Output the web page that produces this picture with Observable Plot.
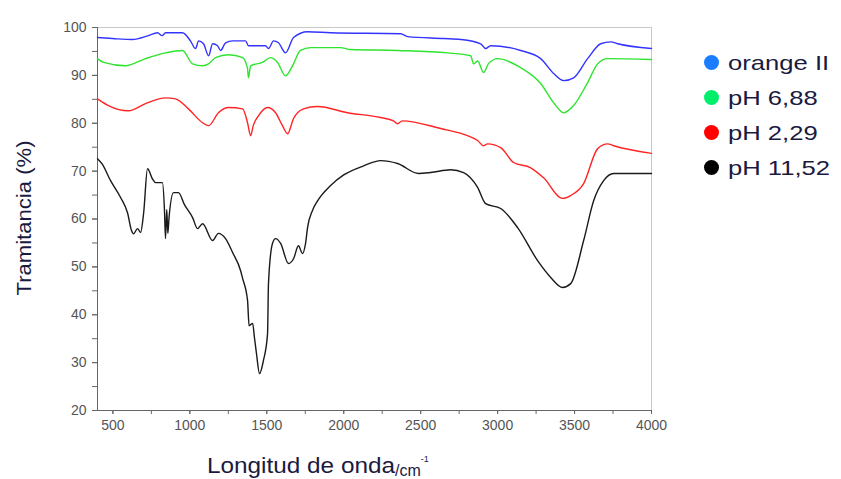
<!DOCTYPE html>
<html>
<head>
<meta charset="utf-8">
<script src="https://cdn.jsdelivr.net/npm/d3@7"></script>
<script src="https://cdn.jsdelivr.net/npm/@observablehq/plot@0.6"></script>
<style>
  html, body { margin: 0; padding: 0; background: #fff; }
  #wrap { position: relative; width: 841px; height: 479px; font-family: "Liberation Sans", Arial, sans-serif; }
  #legend { position: absolute; left: 704px; top: 45px; }
  .li { display: flex; align-items: center; height: 35px; font-size: 21px; color: #1a1a40; }
  .dot { width: 15px; height: 15px; border-radius: 50%; margin-right: 9px; flex: none; }
  .tx { display: inline-block; transform: scaleX(1.22); transform-origin: left center; white-space: nowrap; }
</style>
</head>
<body>
<div id="wrap"><div id="legend"></div></div>
<script>
// Series names and colors
const seriesNames = ["orange II", "pH 6,88", "pH 2,29", "pH 11,52"];
const lineColors = ["#3434ff", "#2ee42e", "#ff2424", "#1a1a1a"];
const legendColors = ["#1a7dff", "#00ee6a", "#ff0000", "#000000"];

// orange II
const waveOrange = [400,497,627,731,790,820,842,952,1004,1037,1057,1089,1122,1148,1180,1200,1232,1278,1362,1381,1492,1511,1544,1576,1622,1674,1765,1915,2370,2415,2649,2760,2890,2922,2955,3150,3280,3364,3429,3494,3585,3670,3735,3780,4000];
const tOrange    = [97.9,97.7,97.5,98.3,98.9,98.3,98.9,98.9,97.2,95.6,97.2,96.6,94.1,96.6,96.2,95.2,96.8,97.2,97.2,96.2,96.2,95.6,97.2,96.8,94.7,97.9,99.1,98.9,98.7,98.1,97.7,97.5,96.6,95.6,96.2,95.2,93.5,90.4,88.9,89.5,93.5,96.6,97,96.6,95.6];

// pH 6,88
const wave688 = [400,440,582,712,842,952,1018,1083,1122,1167,1252,1343,1375,1381,1395,1472,1524,1570,1622,1667,1719,1785,1980,2044,2350,2675,2825,2844,2870,2909,2940,3000,3150,3280,3364,3429,3494,3585,3650,3715,4000];
const t688    = [93.5,92.7,92,93.5,94.7,95.2,92.4,92,92.4,93.7,94.3,93.7,91.4,89.5,92,92.7,93.7,92.7,89.9,92,95.2,95.8,95.8,95.4,95.2,94.7,94.1,92.4,93,90.6,92.4,93.5,91.6,88.3,84.3,82.2,83.7,88.5,92.4,93.5,93.3];

// pH 2,29
const wave229 = [400,471,600,712,842,907,991,1083,1122,1186,1252,1343,1375,1395,1412,1447,1505,1557,1602,1635,1674,1739,1830,2025,2240,2324,2350,2380,2630,2805,2870,2909,2935,3020,3104,3215,3299,3422,3475,3559,3650,3715,3754,4000];
const t229    = [85.1,83.7,82.6,84.1,85.3,85.1,83,80.1,79.5,82.2,83.3,83,80.1,77.4,79.5,81.6,83.3,82.2,79.5,77.8,81,83,83.5,82.2,81.2,80.5,79.9,80.5,78.9,77.4,76.4,75.3,75.7,74.9,71.8,70.7,68.6,64.3,64.9,67.4,74.7,75.7,75.3,73.7];

// pH 11,52
const wave1152 = [400,430,485,550,595,621,634,660,680,700,725,757,777,822,835,842,850,857,865,894,926,965,1018,1050,1083,1148,1186,1232,1278,1330,1343,1375,1385,1408,1420,1433,1453,1478,1505,1511,1537,1557,1590,1641,1674,1706,1732,1752,1765,1797,1830,1915,2000,2129,2240,2350,2487,2565,2695,2779,2870,2922,3020,3130,3260,3345,3422,3475,3559,3624,3689,3754,4000];
const t1152    = [72.6,71.5,68,64.5,61.3,57.6,56.9,58,57.2,61.3,70.5,68.4,67.6,67.6,62,55.9,62,57,60.3,65.5,65.5,63,60.3,58,59,55.5,57,55.9,53,49.2,47.6,43,37.7,38.2,35.2,31.9,27.7,30.4,36,46.5,54.9,55.9,54.9,50.7,51.7,54.4,52.8,54.9,58.2,61.8,63.8,67,69.2,71.1,72.2,71.6,69.5,69.7,70.3,69.7,66.6,63.2,62.2,58.2,51.3,47.8,45.7,46.5,55.5,63.8,68,69.5,69.5];

const xTicks = [500,1000,1500,2000,2500,3000,3500,4000];
const xMinor = d3.range(500, 4001, 250);
const yTicks = [20,30,40,50,60,70,80,90,100];
const yMinor = d3.range(20, 101, 5);

const waves = [waveOrange, wave688, wave229, wave1152];
const vals = [tOrange, t688, t229, t1152];
const rows = [];
seriesNames.forEach((s, i) => waves[i].forEach((w, j) => rows.push({series: s, wave: w, t: vals[i][j]})));

const plot = Plot.plot({
  width: 841,
  height: 479,
  marginLeft: 97,
  marginRight: 190,
  marginTop: 27,
  marginBottom: 69,
  style: {fontFamily: "Liberation Sans, Arial, sans-serif", fontSize: "14px", color: "#555", background: "#fff"},
  x: {type: "linear", domain: [400, 4000], label: null},
  y: {type: "linear", domain: [20, 100], label: null},
  color: {domain: seriesNames, range: lineColors},
  marks: [
    Plot.frame({stroke: "#c8c8c8"}),
    Plot.ruleX([400], {stroke: "#666"}),
    Plot.ruleY([20], {stroke: "#666"}),
    Plot.axisX({ticks: xMinor, tickSize: 4, tickFormat: () => "", stroke: "#666"}),
    Plot.axisX({ticks: xTicks, tickSize: 4, tickPadding: 6, fontSize: 14, fill: "#555", stroke: "#666", tickFormat: d => String(d)}),
    Plot.axisY({ticks: yMinor, tickSize: 5, tickFormat: () => "", stroke: "#666"}),
    Plot.axisY({ticks: yTicks, tickSize: 5, tickPadding: 6, fontSize: 14, fill: "#555", stroke: "#666"}),
    Plot.line(rows, {x: "wave", y: "t", z: "series", stroke: "series", strokeWidth: 1.4, curve: "monotone-x"})
  ]
});

const svg = d3.select(plot);
// Axis titles
svg.append("text")
  .attr("transform", "translate(31,218) rotate(-90)")
  .attr("text-anchor", "middle")
  .attr("font-size", 21)
  .attr("fill", "#1a1a40")
  .attr("textLength", 155)
  .attr("lengthAdjust", "spacingAndGlyphs")
  .text("Tramitancia (%)");
const xt = svg.append("text")
  .attr("x", 207).attr("y", 473)
  .attr("text-anchor", "start")
  .attr("font-size", 22)
  .attr("fill", "#1a1a40");
xt.append("tspan").attr("textLength", 188).attr("lengthAdjust", "spacingAndGlyphs").text("Longitud de onda");
xt.append("tspan").attr("font-size", 16).attr("dy", 3).text("/cm");
xt.append("tspan").attr("font-size", 9).attr("dy", -14).text("-1");

document.getElementById("wrap").prepend(plot);
plot.style.position = "absolute"; plot.style.left = "0"; plot.style.top = "0";

// Legend
const lg = document.getElementById("legend");
lg.style.zIndex = 2;
seriesNames.forEach((s, i) => {
  const row = document.createElement("div");
  row.className = "li";
  const dot = document.createElement("span");
  dot.className = "dot";
  dot.style.background = legendColors[i];
  const tx = document.createElement("span");
  tx.className = "tx";
  tx.textContent = s;
  row.appendChild(dot); row.appendChild(tx);
  lg.appendChild(row);
});
</script>
</body>
</html>
